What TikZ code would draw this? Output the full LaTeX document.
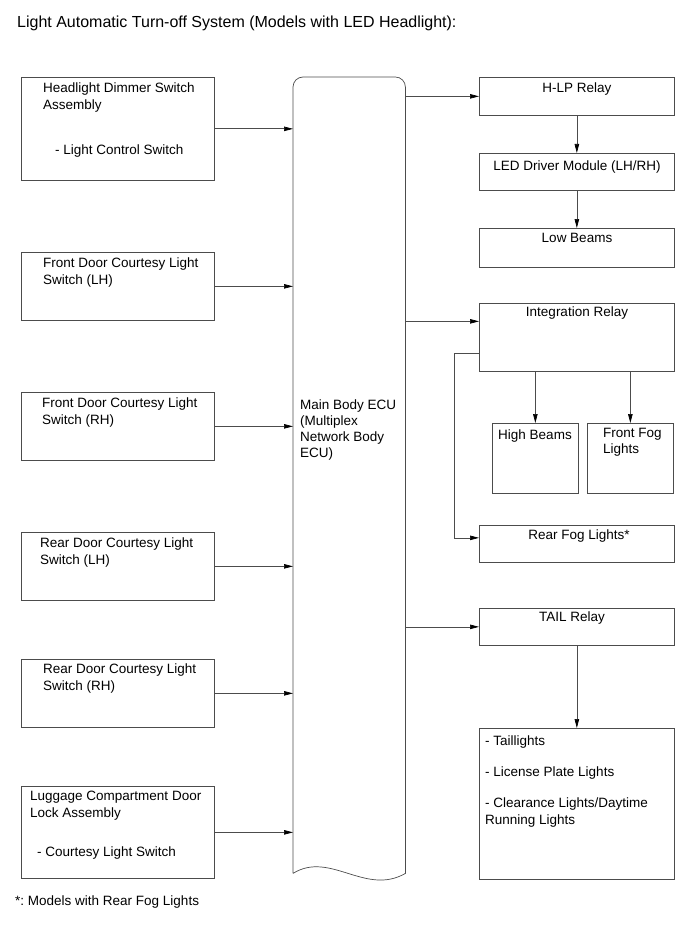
\documentclass[tikz,border=0pt]{standalone}
\usepackage{fontspec}
\setmainfont{Liberation Sans}
\usetikzlibrary{arrows.meta}
\frenchspacing

\begin{document}
\begin{tikzpicture}[x=1pt, y=-1pt,
    box/.style={draw=black!70, line width=0.7pt, anchor=north west, inner sep=0pt},
    txt/.style={anchor=north west, inner sep=0pt, align=left, font=\fontsize{13.5}{16.5}\selectfont},
    ctxt/.style={anchor=north, inner sep=0pt, align=center, font=\fontsize{13.5}{16.5}\selectfont},
    arr/.style={draw=black!70, line width=0.7pt, -{Triangle[length=9pt,width=4.5pt,color=black]}}]

\useasboundingbox (0,0) rectangle (690,952);

% Заголовок
\node[txt, font=\fontsize{16}{19}\selectfont] (title) at (17,16) {Light Automatic Turn-off System (Models with LED Headlight):};

% Выключатели (слева)
\node[box, minimum width=193pt, minimum height=103pt] (hds) at (21,77) {};
\node[box, minimum width=193pt, minimum height=68pt] (fdl) at (21,252) {};
\node[box, minimum width=193pt, minimum height=68pt] (fdr) at (21,392) {};
\node[box, minimum width=193pt, minimum height=68pt] (rdl) at (21,532) {};
\node[box, minimum width=193pt, minimum height=68pt] (rdr) at (21,659) {};
\node[box, minimum width=193pt, minimum height=92pt] (lug) at (21,786) {};

\node[txt] (hdsT) at (43,83) {Headlight Dimmer Switch\\Assembly};
\node[txt] (hdsS) at (55,145) {- Light Control Switch};
\node[txt] (fdlT) at (43,258) {Front Door Courtesy Light\\Switch (LH)};
\node[txt] (fdrT) at (42,398) {Front Door Courtesy Light\\Switch (RH)};
\node[txt] (rdlT) at (40,538) {Rear Door Courtesy Light\\Switch (LH)};
\node[txt] (rdrT) at (43,664) {Rear Door Courtesy Light\\Switch (RH)};
\node[txt] (lugT) at (30,791) {Luggage Compartment Door\\Lock Assembly};
\node[txt] (lugS) at (37,847) {- Courtesy Light Switch};

% Блок ECU
\node[anchor=north west, inner sep=0pt, minimum width=112pt, minimum height=796pt] (ecu) at (293,77) {};
\draw[black!70, line width=0.7pt] (ecu.south west) [rounded corners=10pt] -- (ecu.north west)
    -- (ecu.north east) -- ([yshift=-30pt]ecu.north east) [sharp corners] -- (ecu.south east)
    .. controls +(-40,23) and +(37,-23) .. (ecu.south west);
\node[txt, font=\fontsize{13.5}{16}\selectfont] (ecuT) at (300,400) {Main Body ECU\\(Multiplex\\Network Body\\ECU)};

% Нагрузки (справа)
\node[box, minimum width=195pt, minimum height=38pt] (hlp) at (479,77) {};
\node[box, minimum width=195pt, minimum height=37pt] (led) at (479,153) {};
\node[box, minimum width=195pt, minimum height=39pt] (low) at (479,228) {};
\node[box, minimum width=195pt, minimum height=68pt] (intr) at (479,303) {};
\node[box, minimum width=86pt, minimum height=70pt] (high) at (492,423) {};
\node[box, minimum width=86pt, minimum height=70pt] (ffog) at (587,423) {};
\node[box, minimum width=195pt, minimum height=37pt] (rfog) at (479,525) {};
\node[box, minimum width=195pt, minimum height=37pt] (tail) at (479,608) {};
\node[box, minimum width=195pt, minimum height=151pt] (tl) at (479,728) {};

\node[ctxt] (hlpT) at (577,83) {H-LP Relay};
\node[ctxt] (ledT) at (577,161) {LED Driver Module (LH/RH)};
\node[ctxt] (lowT) at (577,233) {Low Beams};
\node[ctxt] (intrT) at (577,307) {Integration Relay};
\node[ctxt] (highT) at (535,430) {High Beams};
\node[txt] (ffogT) at (603,428) {Front Fog\\Lights};
\node[ctxt] (rfogT) at (579,530) {Rear Fog Lights*};
\node[ctxt] (tailT) at (572,612) {TAIL Relay};
\node[txt] (tl1) at (485,736) {- Taillights};
\node[txt] (tl2) at (485,767) {- License Plate Lights};
\node[txt] (tl3) at (485,798) {- Clearance Lights/Daytime\\Running Lights};

% Сноска
\node[txt] (note) at (15,896) {*: Models with Rear Fog Lights};

% Связи
\foreach \n in {hds,fdl,fdr,rdl,rdr,lug}
    \draw[arr] (\n.east) -- (\n.east -| ecu.west);

\coordinate (intrin) at ([yshift=16pt]intr.west);
\coordinate (introut) at ([yshift=-16pt]intr.west);
\coordinate (rfogin) at ([yshift=6pt]rfog.west);

\draw[arr] (hlp.west -| ecu.east) -- (hlp.west);
\draw[arr] (intrin -| ecu.east) -- (intrin);
\draw[arr] (tail.west -| ecu.east) -- (tail.west);

\draw[arr] (hlp.south) -- (led.north);
\draw[arr] (led.south) -- (low.north);
\draw[arr] (intr.south -| high.north) -- (high.north);
\draw[arr] (intr.south -| ffog.north) -- (ffog.north);
\draw[arr] (introut) -- ++(-25,0) |- (rfogin);
\draw[arr] (tail.south) -- (tl.north);
\end{tikzpicture}
\end{document}
